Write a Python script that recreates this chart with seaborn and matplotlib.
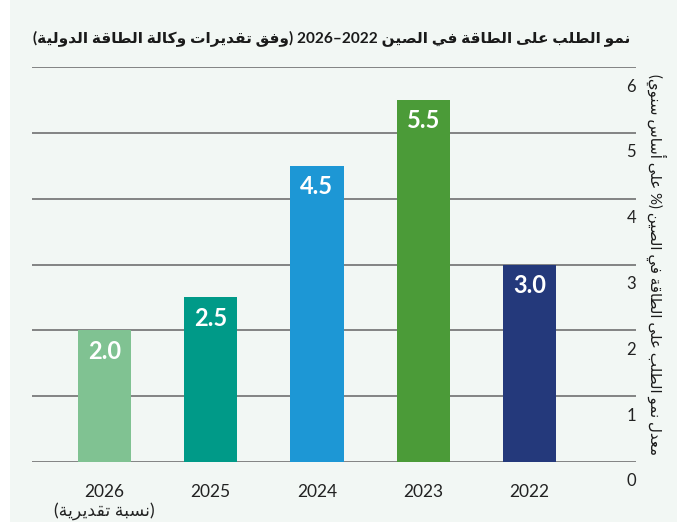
import re
import seaborn as sns
import matplotlib.pyplot as plt
from matplotlib.patches import Rectangle
from matplotlib.transforms import ScaledTranslation

# Data (right-to-left chart: 2022 on the right)
YEARS = ["2026", "2025", "2024", "2023", "2022"]
GROWTH = [2.0, 2.5, 4.5, 5.5, 3.0]
BAR_COLORS = ["#80c292", "#009a88", "#1d97d5", "#4b9b38", "#24397b"]
Y_TICKS = [0, 1, 2, 3, 4, 5, 6]

TITLE = "نمو الطلب على الطاقة في الصين 2022–2026 (وفق تقديرات وكالة الطاقة الدولية)"
Y_LABEL = "معدل نمو الطلب على الطاقة في الصين (% على أساس سنوي)"
ESTIMATE_NOTE = "(نسبة تقديرية)"

# --- minimal Arabic shaping + visual ordering (matplotlib has no bidi) ---
BASE = {
    'ا': 0xFE8D, 'أ': 0xFE83, 'ب': 0xFE8F, 'ة': 0xFE93, 'ت': 0xFE95,
    'د': 0xFEA9, 'ر': 0xFEAD, 'س': 0xFEB1, 'ص': 0xFEB9, 'ط': 0xFEC1,
    'ع': 0xFEC9, 'ف': 0xFED1, 'ق': 0xFED5, 'ك': 0xFED9, 'ل': 0xFEDD,
    'م': 0xFEE1, 'ن': 0xFEE5, 'و': 0xFEED, 'ى': 0xFEEF, 'ي': 0xFEF1,
}
RIGHT_ONLY = "اأدروةى"
LAM_ALEF = {'ا': 0xFEFB, 'أ': 0xFEF7}
MIRROR = {'(': ')', ')': '('}


def shape(s):
    out = []
    i = 0
    while i < len(s):
        c = s[i]
        if c not in BASE:
            out.append(c)
            i += 1
            continue
        prev = s[i - 1] if i > 0 else ''
        pj = prev in BASE and prev not in RIGHT_ONLY
        if c == 'ل' and i + 1 < len(s) and s[i + 1] in LAM_ALEF:
            out.append(chr(LAM_ALEF[s[i + 1]] + (1 if pj else 0)))
            i += 2
            continue
        nj = i + 1 < len(s) and s[i + 1] in BASE and c not in RIGHT_ONLY
        form = (3 if nj else 1) if pj else (2 if nj else 0)
        out.append(chr(BASE[c] + form))
        i += 1
    return ''.join(out)


def rtl(s):
    lines = []
    for line in s.split("\n"):
        runs = re.findall(r'\d+|\D+', shape(line))
        vis = []
        for r in reversed(runs):
            if r.isdigit():
                vis.append(r)
            else:
                vis.append(''.join(MIRROR.get(ch, ch) for ch in reversed(r)))
        lines.append(''.join(vis))
    return "\n".join(lines)


def fit_text(txt, length_px, vertical=False):
    # shrink/grow a text so its long side spans length_px
    renderer = fig.canvas.get_renderer()
    bb = txt.get_window_extent(renderer)
    cur = bb.height if vertical else bb.width
    txt.set_fontsize(txt.get_fontsize() * length_px / cur)


sns.set_style("white")
plt.rcParams['font.family'] = ['Lato', 'DejaVu Sans']

fig = plt.figure(figsize=(6.77, 5.22), dpi=100)
fig.patches.append(Rectangle((10 / 677, 0), 1, 1, transform=fig.transFigure,
                             facecolor="#f2f7f4", edgecolor="none", zorder=-10))

ax = fig.add_axes([32 / 677, 60 / 522, 604 / 677, 395 / 522])
ax.set_facecolor("none")

sns.barplot(x=YEARS, y=GROWTH, hue=YEARS, palette=BAR_COLORS, order=YEARS,
            width=0.5, saturation=1, legend=False, linewidth=0, ax=ax, zorder=3)

for i, v in enumerate(GROWTH):
    ax.annotate(f"{v:.1f}", (i, v), xytext=(0, -15), textcoords="offset points",
                ha="center", va="center", color="white", fontsize=17,
                fontweight="bold", zorder=4)

ax.set_ylim(0, 6)
ax.set_xlim(-0.68, 5.0)
ax.set_yticks(Y_TICKS)
ax.yaxis.grid(True, color="#707070", linewidth=1.2)
ax.set_axisbelow(True)
sns.despine(ax=ax, left=True, bottom=True, right=True, top=True)

ax.yaxis.tick_right()
ax.tick_params(axis="y", length=0, pad=0, labelsize=12, labelcolor="#222222")
offset = ScaledTranslation(0, -0.18, fig.dpi_scale_trans)
for lbl in ax.get_yticklabels():
    lbl.set_horizontalalignment("right")
    lbl.set_transform(lbl.get_transform() + offset)

xlabels = list(YEARS)
xlabels[0] = YEARS[0] + "\n" + rtl(ESTIMATE_NOTE)
ax.set_xticks(range(len(YEARS)))
ax.set_xticklabels(xlabels, linespacing=1.15)
ax.tick_params(axis="x", length=0, pad=16, labelsize=12.5, labelcolor="#222222")
ax.set_xlabel("")
ax.set_ylabel("")

title = fig.text(630 / 677, 1 - 38 / 522, rtl(TITLE), ha="right", va="center",
                 fontsize=12.5, fontweight="bold", color="#1a1a1a")
ylab = fig.text(656 / 677, 1 - 265 / 522, rtl(Y_LABEL), rotation=270, ha="center",
                va="center", fontsize=12, color="#1a1a1a")
fit_text(title, 597)
fit_text(ylab, 382, vertical=True)

fig.savefig("out.png", dpi=100)
